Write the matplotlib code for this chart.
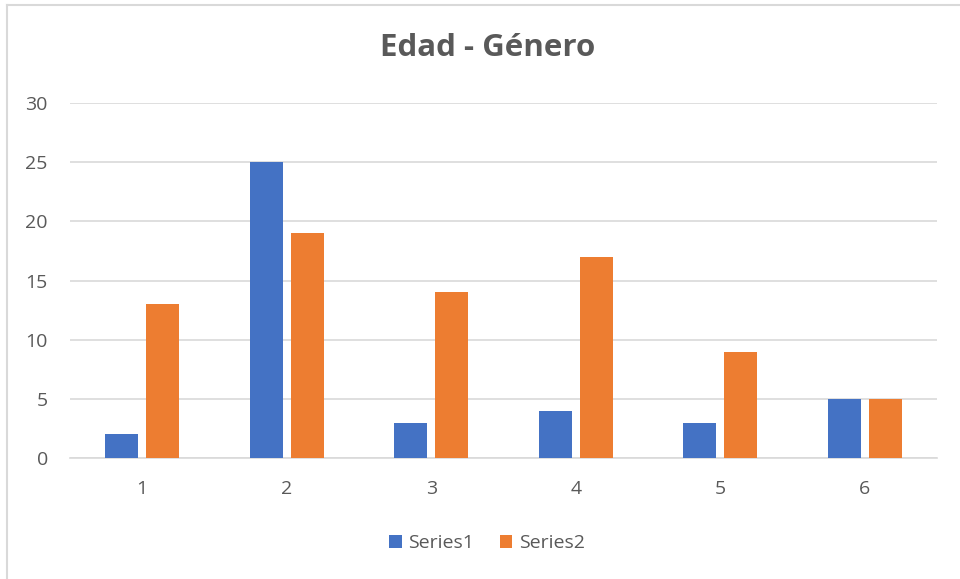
import numpy as np
import matplotlib
matplotlib.use("Agg")
import matplotlib.pyplot as plt
from matplotlib.lines import Line2D

categories = ["1", "2", "3", "4", "5", "6"]
series1 = [2, 25, 3, 4, 3, 5]
series2 = [13, 19, 14, 17, 9, 5]
yticks = [0, 5, 10, 15, 20, 25, 30]

BLUE = "#4472C4"
ORANGE = "#ED7D31"
TEXT = "#595959"
GRID = "#D9D9D9"

plt.rcParams["font.family"] = ["Open Sans", "DejaVu Sans"]

W, H = 960, 579
fig = plt.figure(figsize=(W / 100, H / 100), dpi=100)
ax = fig.add_axes([70 / W, (H - 458) / H, 867 / W, 355 / H])

x = np.arange(len(categories))
bw = 0.228
off = 0.141
ax.bar(x - off, series1, bw, color=BLUE, label="Series1", zorder=3)
ax.bar(x + off, series2, bw, color=ORANGE, label="Series2", zorder=3)

ax.set_xlim(-0.5, len(categories) - 0.5)
ax.set_ylim(0, 30)
ax.set_yticks(yticks)
ax.set_xticks(x)
ax.set_xticklabels(categories)
ax.yaxis.grid(True, color=GRID, linewidth=1.2, zorder=0)
ax.tick_params(axis="both", length=0, labelsize=14, labelcolor=TEXT)
ax.tick_params(axis="y", pad=16)
ax.tick_params(axis="x", pad=16)
for s in ["top", "right", "left"]:
    ax.spines[s].set_visible(False)
ax.spines["bottom"].set_color(GRID)
ax.spines["bottom"].set_linewidth(1.2)

fig.text(488 / W, 1 - 48 / H, "Edad - Género", ha="center", va="center",
         fontsize=22.5, fontweight="bold", color=TEXT)

fig.legend(loc="center", bbox_to_anchor=(487 / W, 1 - 543 / H), ncol=2,
           frameon=False, fontsize=14, labelcolor=TEXT, handlelength=0.65,
           handleheight=0.65, handletextpad=0.35, columnspacing=1.3)

# chart border (only top and left visible in the reference)
fig.add_artist(Line2D([6.5 / W, 1], [1 - 4.5 / H, 1 - 4.5 / H], color=GRID, lw=1.5))
fig.add_artist(Line2D([6.5 / W, 6.5 / W], [0, 1 - 4.5 / H], color=GRID, lw=1.5))

fig.savefig("out.png", dpi=100)
